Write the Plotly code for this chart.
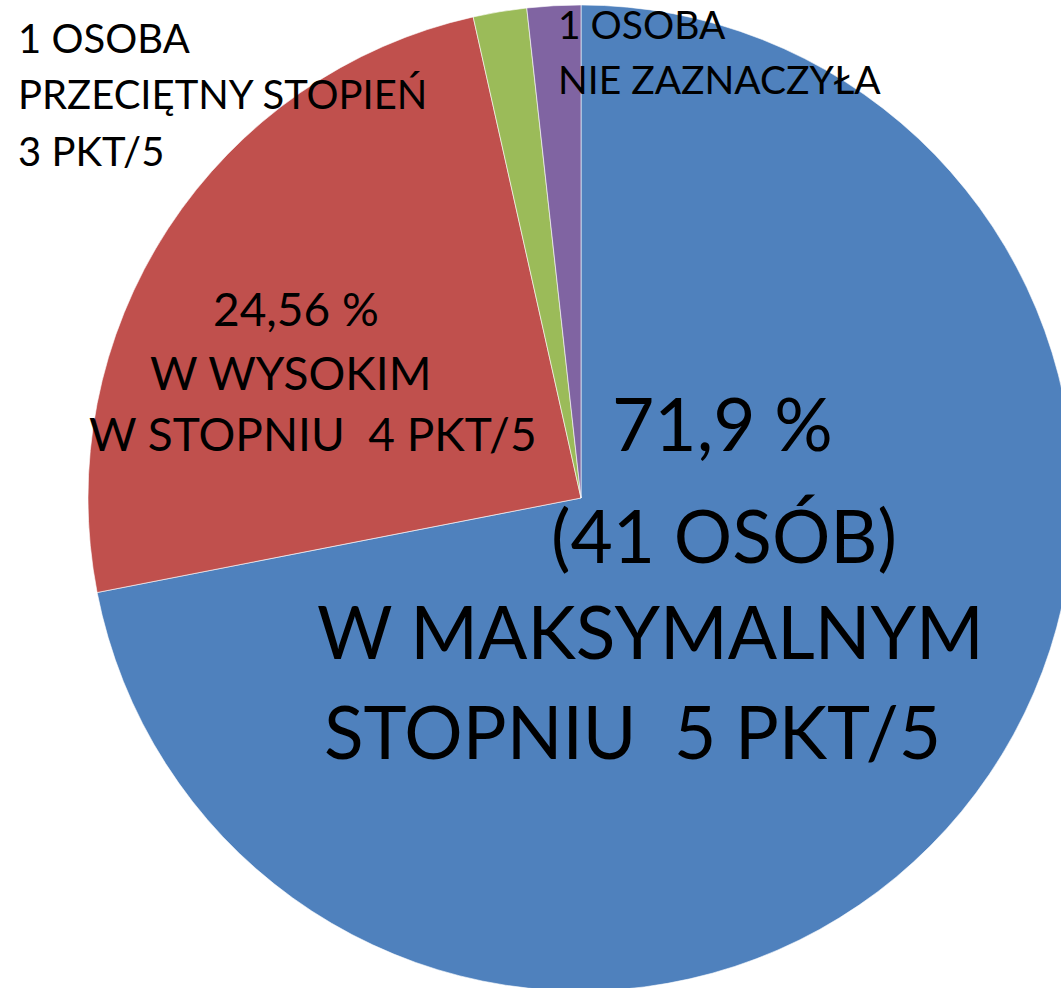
import plotly.graph_objects as go

labels = ["W maksymalnym stopniu 5 pkt/5", "W wysokim stopniu 4 pkt/5",
          "Przeciętny stopień 3 pkt/5", "Nie zaznaczyła"]
values = [41, 14, 1, 1]
colors = ["#4F81BD", "#C0504D", "#9BBB59", "#8064A2"]

blue_lines = ["71,9 %", "(41 OSÓB)", "W MAKSYMALNYM", "STOPNIU  5 PKT/5"]
red_lines = ["24,56 %", "W WYSOKIM", "W STOPNIU  4 PKT/5"]
green_lines = ["1 OSOBA", "PRZECIĘTNY STOPIEŃ", "3 PKT/5"]
purple_lines = ["1 OSOBA", "NIE ZAZNACZYŁA"]

W, H = 1162, 996
FONT = "Lato"

fig = go.Figure(go.Pie(
    labels=labels, values=values, sort=False, direction="clockwise", rotation=0,
    marker=dict(colors=colors, line=dict(color="white", width=0.6)),
    textinfo="none", hoverinfo="label+value+percent", showlegend=False,
    domain=dict(x=[0, 1], y=[0.005, 0.995]),
))

def px(x, y):
    return x / W, 1 - y / H

ann = []
def add_lines(lines, xs, ys, size, anchor, yanchors=None):
    yanchors = yanchors or ["middle"] * len(lines)
    for t, x, y, ya in zip(lines, xs, ys, yanchors):
        X, Y = px(x, y)
        ann.append(dict(text=t.replace("  ", "\u00a0 "), x=X, y=Y, xref="paper", yref="paper",
                        showarrow=False, xanchor=anchor, yanchor=ya, borderpad=0,
                        font=dict(family=FONT, size=size, color="black")))

add_lines(blue_lines, [722, 724, 650, 632], [423, 535, 631, 731], 73, "center")
add_lines(red_lines, [296, 290, 313], [308, 372, 433], 46, "center")
add_lines(green_lines, [17, 17, 17], [38, 94, 151], 40, "left")
add_lines(purple_lines, [557, 557], [0, 79], 39, "left", ["top", "middle"])

fig.update_layout(width=W, height=H, margin=dict(l=0, r=0, t=0, b=0),
                  paper_bgcolor="white", plot_bgcolor="white", annotations=ann)
fig.write_html("out.html",
               post_script="document.body.style.margin='0';document.body.style.overflow='hidden';"
                           "document.documentElement.style.overflow='hidden';")
